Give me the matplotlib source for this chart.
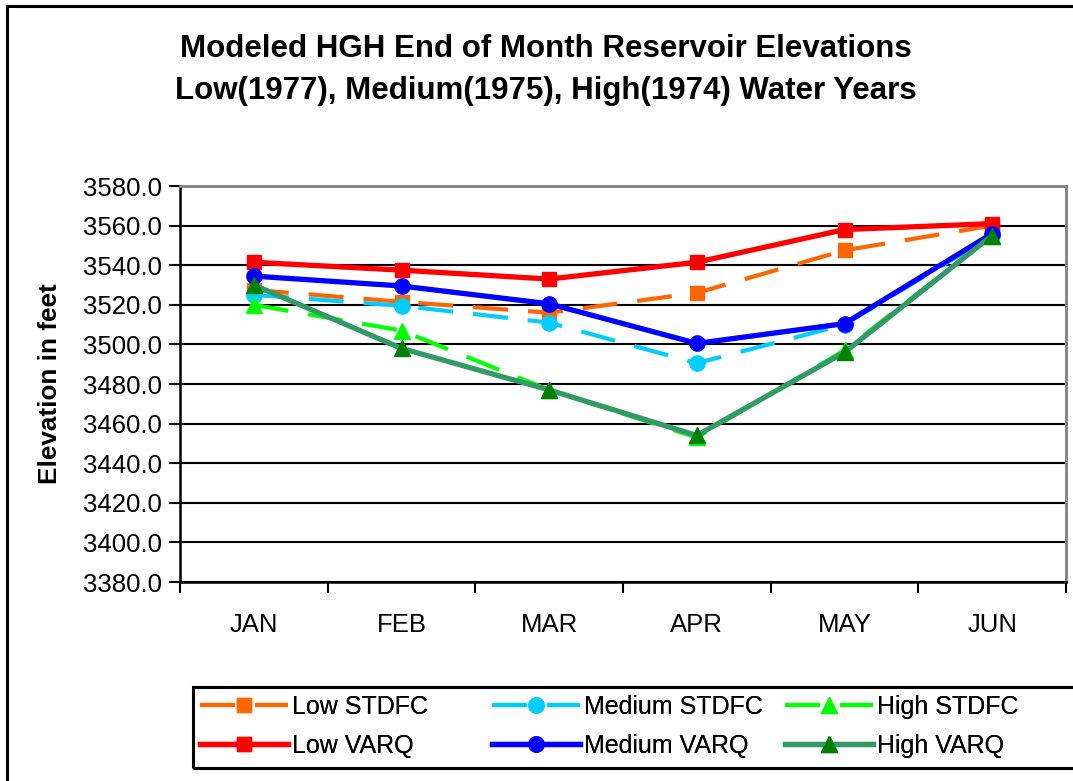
import matplotlib.pyplot as plt
from matplotlib.patches import Rectangle
from matplotlib.ticker import FixedLocator

plt.rcParams["font.family"] = ["Liberation Sans", "DejaVu Sans"]

# ---------------------------------------------------------------------------
# Data (feet)
# ---------------------------------------------------------------------------
months = ["JAN", "FEB", "MAR", "APR", "MAY", "JUN"]

low_stdfc = [3527.5, 3521.5, 3516.0, 3526.0, 3547.5, 3560.0]
medium_stdfc = [3525.0, 3519.5, 3511.0, 3490.5, 3510.0, 3555.0]
high_stdfc = [3520.0, 3507.0, 3477.0, 3453.0, 3497.0, 3555.0]
low_varq = [3541.5, 3537.5, 3533.0, 3541.5, 3558.0, 3561.0]
medium_varq = [3534.5, 3529.5, 3520.5, 3500.5, 3510.5, 3556.0]
high_varq = [3530.0, 3498.0, 3477.0, 3454.0, 3496.0, 3555.0]

y_ticks = [3380 + 20 * i for i in range(11)]

# style per series: (label, data, line colour, marker, marker colour, dashed)
SERIES = [
    ("Low STDFC", low_stdfc, "#FF6600", "s", "#FF6600", True),
    ("Medium STDFC", medium_stdfc, "#00CCFF", "o", "#00CCFF", True),
    ("High STDFC", high_stdfc, "#00FF00", "^", "#00FF00", True),
    ("Low VARQ", low_varq, "#FF0000", "s", "#FF0000", False),
    ("Medium VARQ", medium_varq, "#0000FF", "o", "#0000FF", False),
    ("High VARQ", high_varq, "#339966", "^", "#008000", False),
]

W, H = 1073, 781
fig = plt.figure(figsize=(W / 100, H / 100), dpi=100)
ax = fig.add_axes([180 / W, 1 - 582 / H, 886 / W, 396 / H])

x = list(range(len(months)))
handles = {}
for label, data, color, marker, mcolor, dashed in SERIES:
    ms = 10 if marker == "s" else 11
    (line,) = ax.plot(
        x, data,
        color=color, lw=3.0 if dashed else 3.8,
        marker=marker, markersize=ms,
        markerfacecolor=mcolor, markeredgecolor=mcolor,
        clip_on=False, zorder=3,
    )
    if dashed:
        line.set_dashes((8.4, 4.8))
    handles[label] = line

ax.set_xlim(-0.5, len(months) - 0.5)
ax.set_ylim(y_ticks[0], y_ticks[-1])
ax.set_yticks(y_ticks)
ax.set_yticklabels([f"{v:.1f}" for v in y_ticks])
ax.tick_params(axis="y", direction="out", length=8, width=1.5,
               labelsize=18.5, pad=5)

ax.set_xticks(x)
ax.set_xticklabels(months)
ax.tick_params(axis="x", which="major", length=0, labelsize=18.5, pad=22)
ax.xaxis.set_minor_locator(FixedLocator([i - 0.5 for i in range(len(months) + 1)]))
ax.tick_params(axis="x", which="minor", direction="out", length=8, width=1.5)

ax.grid(axis="y", color="black", lw=1.5)
ax.set_axisbelow(True)
for side in ["left", "bottom"]:
    ax.spines[side].set_color("black")
    ax.spines[side].set_linewidth(1.8)
for side in ["top", "right"]:
    ax.spines[side].set_color("#808080")
    ax.spines[side].set_linewidth(2)

fig.text(50 / W, 1 - 384 / H, "Elevation in feet", rotation=90,
         ha="center", va="center", fontsize=18.8, fontweight="bold")

fig.text(546 / W, 1 - 70 / H,
         "Modeled HGH End of Month Reservoir Elevations\n"
         "Low(1977), Medium(1975), High(1974) Water Years",
         ha="center", va="center", fontsize=22.5, fontweight="bold",
         linespacing=1.5)

# legend: Excel lays it out as fixed-width columns, so one small legend
# per column (STDFC on top, VARQ below) plus a shared frame
columns = [("Low STDFC", "Low VARQ", 200),
           ("Medium STDFC", "Medium VARQ", 492),
           ("High STDFC", "High VARQ", 785)]
for top, bottom, x_left in columns:
    leg = fig.legend(
        [handles[top], handles[bottom]], [top, bottom],
        loc="upper left", bbox_to_anchor=(x_left / W, 1 - 695 / H),
        fontsize=18, handlelength=3.5, handletextpad=0.18,
        borderaxespad=0, borderpad=0, frameon=False, labelspacing=0.6,
    )
    fig.add_artist(leg)

fig.patches.append(Rectangle((193 / W, 1 - 768 / H), 900 / W, 81 / H,
                             transform=fig.transFigure, fill=False,
                             edgecolor="black", lw=2.2))

# outer chart border (only top and left edges are visible in the crop)
fig.patches.append(Rectangle((7 / W, -0.05), 1.1, 1 - 6 / H + 0.05,
                             transform=fig.transFigure, fill=False,
                             edgecolor="black", lw=2.2))

fig.savefig("out.png", dpi=100)
